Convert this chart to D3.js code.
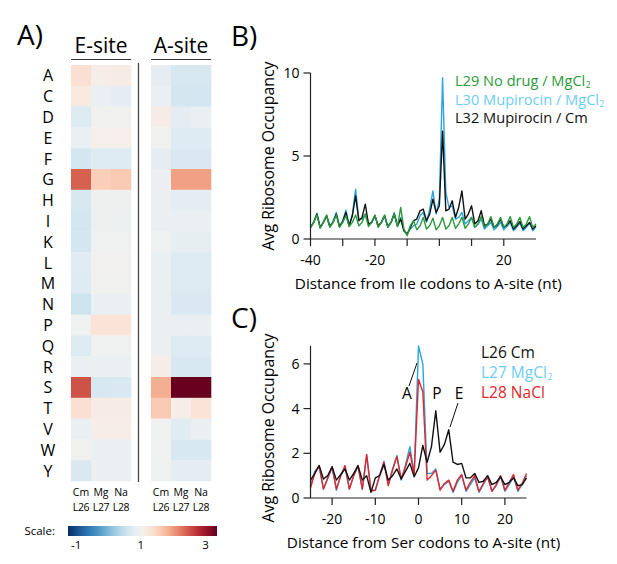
<!DOCTYPE html>
<html lang="en">
<head>
    <meta charset="UTF-8">
    <title>Ribosome occupancy</title>
    <script src="https://d3js.org/d3.v7.min.js"></script>
    <style>
        body {
            margin: 0;
            padding: 0;
            background-color: #fff;
        }
        svg text {
            font-family: "Open Sans", "Noto Sans", sans-serif;
        }
    </style>
</head>
<body>
    <svg id="chart" width="617" height="564"></svg>

    <script>
        // ---- heatmap data (A) ----
        const aminoAcids = ['A','C','D','E','F','G','H','I','K','L','M','N','P','Q','R','S','T','V','W','Y'];
        const heatCols = ['Cm', 'Mg', 'Na'];
        const heatLibs = ['L26', 'L27', 'L28'];
        const eSiteCm = [1.35, 1.2, 0.7, 0.85, 0.62, 2.4, 0.65, 0.62, 0.62, 0.75, 0.72, 0.55, 0.95, 0.7, 0.85, 2.5, 1.35, 0.85, 0.97, 0.68];
        const eSiteMg = [1.1, 0.85, 0.97, 1.05, 0.72, 1.55, 0.93, 0.93, 0.95, 0.98, 0.96, 0.85, 1.3, 0.95, 0.87, 0.65, 1.15, 1.1, 0.87, 0.88];
        const eSiteNa = [1.15, 0.8, 0.97, 1.08, 0.72, 1.6, 0.93, 0.92, 0.95, 0.98, 0.96, 0.85, 1.3, 0.95, 0.87, 0.68, 1.15, 1.1, 0.87, 0.88];
        const aSiteCm = [0.8, 0.85, 1.15, 0.97, 0.8, 0.88, 0.9, 0.88, 0.95, 0.85, 0.87, 0.87, 0.9, 0.9, 1.1, 1.85, 1.6, 0.95, 0.95, 0.95];
        const aSiteMg = [0.65, 0.62, 0.8, 0.72, 0.68, 1.95, 0.78, 0.85, 0.83, 0.7, 0.7, 0.68, 0.85, 0.7, 0.65, 3.35, 1.1, 0.75, 0.65, 0.8];
        const aSiteNa = [0.65, 0.62, 0.85, 0.72, 0.68, 1.95, 0.78, 0.88, 0.83, 0.7, 0.7, 0.68, 0.87, 0.7, 0.65, 3.35, 1.3, 0.88, 0.65, 0.8];
        const scaleTicks = [-1, 1, 3];

        // ---- Ile codons (B), positions -40..30 ----
        const ileX = d3.range(-40, 31);
        const ileL29 = [0.7,1.0,1.45,0.65,1.0,1.45,0.7,1.0,1.45,0.7,1.0,1.4,0.75,1.0,1.45,0.8,1.0,1.5,0.75,1.0,1.45,0.7,1.0,1.45,0.7,1.0,1.5,0.75,1.9,0.6,0.2,0.8,1.1,0.55,0.8,1.3,0.6,0.8,1.25,0.55,0.8,1.3,0.6,0.8,1.3,0.65,0.9,1.3,0.65,0.9,1.3,0.7,0.9,1.35,0.7,0.9,1.35,0.7,0.9,1.3,0.7,0.9,1.35,0.7,0.9,1.3,0.7,0.9,1.35,0.7,0.9];
        const ileL30 = [0.7,1.0,1.55,0.7,1.0,1.4,0.75,1.05,1.6,0.75,1.1,1.75,0.8,1.5,3.0,1.2,1.2,1.5,0.85,1.0,1.4,0.75,1.0,1.4,0.7,1.0,1.6,0.75,1.3,0.5,0.3,0.6,0.8,0.9,1.4,1.6,1.0,1.8,2.9,1.5,2.4,9.7,2.8,1.9,2.0,1.2,1.3,1.6,0.9,1.1,1.3,0.7,0.9,1.2,0.6,0.8,1.0,0.55,0.75,1.0,0.55,0.75,1.0,0.5,0.7,0.95,0.5,0.7,0.95,0.5,0.75];
        const ileL32 = [0.7,1.0,1.5,0.7,1.0,1.4,0.75,1.0,1.5,0.75,1.05,1.6,0.8,1.4,2.6,1.1,1.3,2.1,0.9,1.0,1.4,0.8,1.0,1.4,0.75,1.0,1.5,0.8,1.2,0.5,0.3,0.7,1.1,1.2,1.7,1.8,1.1,1.5,2.4,1.6,2.0,6.5,1.7,1.8,2.3,1.3,1.9,2.9,1.2,1.5,2.0,0.9,1.1,1.7,0.8,0.9,1.2,0.7,0.85,1.2,0.7,0.85,1.1,0.6,0.8,1.05,0.6,0.8,1.0,0.6,0.8];
        const ileXTicks = [-40, -30, -20, -10, 0, 10, 20];
        const ileXLabels = [-40, -20, 20];
        const ileYTicks = [0, 5, 10];

        // ---- Ser codons (C), positions -25..25 ----
        const serX = d3.range(-25, 26);
        const serL26 = [0.8,1.1,1.45,0.85,1.0,1.4,0.8,1.05,1.3,0.8,1.1,1.45,0.8,1.0,0.25,0.9,1.0,1.5,0.8,1.0,1.3,0.85,1.2,1.55,0.95,1.35,2.35,1.6,2.3,3.9,2.05,2.4,3.05,1.6,1.5,1.55,0.9,0.9,1.1,0.7,0.75,1.0,0.6,0.7,0.95,0.6,0.7,0.9,0.55,0.6,0.9];
        const serL27 = [0.55,1.2,1.4,0.4,0.9,1.35,0.35,1.0,1.35,0.4,1.0,1.4,0.4,1.9,0.35,0.35,1.0,1.65,0.6,1.3,1.9,0.8,1.5,2.3,1.1,6.8,6.0,1.1,1.1,1.3,0.4,0.6,0.75,0.25,0.7,1.0,0.3,0.6,0.9,0.25,0.6,0.95,0.3,0.55,0.95,0.3,0.6,0.95,0.3,0.6,1.0];
        const serL28 = [0.45,1.1,1.45,0.4,0.9,1.4,0.4,1.0,1.45,0.4,1.0,1.45,0.4,1.95,0.3,0.35,1.0,1.6,0.55,1.25,1.85,0.85,1.4,2.05,1.05,5.3,4.75,0.8,1.0,1.25,0.35,0.65,0.8,0.3,0.8,1.05,0.35,0.7,1.0,0.3,0.65,0.95,0.3,0.6,1.0,0.35,0.7,1.05,0.35,0.65,1.1];
        const serXTicks = [-20, -10, 0, 10, 20];
        const serYTicks = [0, 2, 4, 6];

        const green = '#2b9a3a';
        const blueLine = '#2ba5e2';
        const blueText = '#6ccdf4';
        const red = '#e3262b';

        const svg = d3.select('#chart');

        // ================= A) heatmap =================
        svg.append('text').attr('x', 17).attr('y', 45)
            .attr('font-size', 28).text('A)');

        const color = d3.scaleDiverging()
            .domain([-1.25, 1, 3.35])
            .interpolator(t => d3.interpolateRdBu(1 - t))
            .clamp(true);

        const yRow = d3.scaleBand().domain(aminoAcids).range([65, 481]);

        const blocks = [
            { title: 'E-site', x0: 71, cols: [eSiteCm, eSiteMg, eSiteNa] },
            { title: 'A-site', x0: 151, cols: [aSiteCm, aSiteMg, aSiteNa] }
        ];

        blocks.forEach(b => {
            const xCol = d3.scaleBand().domain(heatCols).range([b.x0, b.x0 + 60]);
            const g = svg.append('g');
            heatCols.forEach((c, ci) => {
                g.selectAll(null)
                    .data(b.cols[ci])
                    .enter()
                    .append('rect')
                    .attr('x', xCol(c))
                    .attr('y', (d, i) => yRow(aminoAcids[i]))
                    .attr('width', xCol.bandwidth() + 0.3)
                    .attr('height', yRow.bandwidth() + 0.3)
                    .attr('fill', d => color(d));
                g.append('text')
                    .attr('x', xCol(c) + xCol.bandwidth() / 2)
                    .attr('y', 496)
                    .attr('text-anchor', 'middle')
                    .attr('font-size', 10.5)
                    .text(c);
                g.append('text')
                    .attr('x', xCol(c) + xCol.bandwidth() / 2)
                    .attr('y', 511)
                    .attr('text-anchor', 'middle')
                    .attr('font-size', 10.5)
                    .attr('letter-spacing', -0.3)
                    .text(heatLibs[ci]);
            });
            g.append('text')
                .attr('x', b.x0 + 30).attr('y', 53)
                .attr('text-anchor', 'middle')
                .attr('font-size', 21)
                .text(b.title);
            g.append('line')
                .attr('x1', b.x0).attr('x2', b.x0 + 60)
                .attr('y1', 59.5).attr('y2', 59.5)
                .attr('stroke', '#333').attr('stroke-width', 1.2);
        });

        // divider between E-site and A-site
        svg.append('line')
            .attr('x1', 138.5).attr('x2', 138.5)
            .attr('y1', 63).attr('y2', 482)
            .attr('stroke', '#444').attr('stroke-width', 1.3);

        // row labels
        svg.selectAll('.aa')
            .data(aminoAcids)
            .enter()
            .append('text')
            .attr('class', 'aa')
            .attr('x', 48)
            .attr('y', d => yRow(d) + yRow.bandwidth() / 2 + 6)
            .attr('text-anchor', 'middle')
            .attr('font-size', 16)
            .text(d => d);

        // colour scale bar
        const xScale = d3.scaleLinear().domain([-1.25, 3.35]).range([68, 217]);
        const grad = svg.append('defs').append('linearGradient')
            .attr('id', 'scaleGrad');
        d3.range(0, 1.0001, 0.05).forEach(t => {
            grad.append('stop')
                .attr('offset', t)
                .attr('stop-color', color(xScale.invert(68 + t * 149)));
        });
        svg.append('rect')
            .attr('x', xScale.range()[0]).attr('y', 526)
            .attr('width', xScale.range()[1] - xScale.range()[0]).attr('height', 10)
            .attr('fill', 'url(#scaleGrad)');
        svg.append('text')
            .attr('x', 55).attr('y', 535)
            .attr('text-anchor', 'end')
            .attr('font-size', 11.5)
            .text('Scale:');
        svg.selectAll('.scaleTick')
            .data(scaleTicks)
            .enter()
            .append('text')
            .attr('class', 'scaleTick')
            .attr('x', d => xScale(d))
            .attr('y', 549)
            .attr('text-anchor', 'middle')
            .attr('font-size', 11.5)
            .text(d => d);

        // ================= line chart helper =================
        const drawAxes = (g, x, y, xTicks, xLabels, yTicks, xTitle, yTitleY) => {
            const [x0, x1] = x.range();
            const [y0, y1] = y.range();
            g.append('line').attr('x1', x0).attr('x2', x1).attr('y1', y0).attr('y2', y0)
                .attr('stroke', '#222').attr('stroke-width', 1.2);
            g.append('line').attr('x1', x0).attr('x2', x0).attr('y1', y0).attr('y2', y1)
                .attr('stroke', '#222').attr('stroke-width', 1.2);
            xTicks.forEach(t => {
                g.append('line').attr('x1', x(t)).attr('x2', x(t))
                    .attr('y1', y0).attr('y2', y0 + 7)
                    .attr('stroke', '#222').attr('stroke-width', 1.2);
            });
            xLabels.forEach(t => {
                g.append('text').attr('x', x(t)).attr('y', y0 + 26)
                    .attr('text-anchor', 'middle').attr('font-size', 14)
                    .text(t);
            });
            yTicks.forEach(t => {
                g.append('line').attr('x1', x0 - 7).attr('x2', x0)
                    .attr('y1', y(t)).attr('y2', y(t))
                    .attr('stroke', '#222').attr('stroke-width', 1.2);
                g.append('text').attr('x', x0 - 11).attr('y', y(t) + 5)
                    .attr('text-anchor', 'end').attr('font-size', 14)
                    .text(t);
            });
            g.append('text')
                .attr('x', (x0 + x1) / 2 + 5).attr('y', y0 + 50)
                .attr('text-anchor', 'middle').attr('font-size', 15.3)
                .text(xTitle);
            g.append('text')
                .attr('transform', `translate(274, ${yTitleY}) rotate(-90)`)
                .attr('text-anchor', 'middle').attr('font-size', 15.8)
                .text('Avg Ribosome Occupancy');
        };

        const drawLine = (g, x, y, xs, vals, stroke) => {
            const line = d3.line()
                .x((d, i) => x(xs[i]))
                .y(d => y(d));
            g.append('path')
                .datum(vals)
                .attr('d', line)
                .attr('fill', 'none')
                .attr('stroke', stroke)
                .attr('stroke-width', 1.4)
                .attr('stroke-linejoin', 'round');
        };

        // legend rows with a subscript as its own text, placed after the main text
        const drawLegend = (g, items, x, y0, step, size) => {
            items.forEach((d, i) => {
                const y = y0 + i * step;
                const t = g.append('text')
                    .attr('x', x).attr('y', y)
                    .attr('font-size', size)
                    .attr('fill', d.fill)
                    .text(d.main);
                if (d.sub) {
                    const w = t.node().getComputedTextLength();
                    g.append('text')
                        .attr('x', x + w + 0.5).attr('y', y + 2)
                        .attr('font-size', 8.5)
                        .attr('fill', d.fill)
                        .text(d.sub);
                }
            });
        };

        // ================= B) Ile codons =================
        svg.append('text').attr('x', 231).attr('y', 46)
            .attr('font-size', 28).text('B)');
        const xB = d3.scaleLinear().domain([-40, 30]).range([310.5, 536]);
        const yB = d3.scaleLinear().domain([0, 10]).range([239, 73]);
        const gB = svg.append('g');
        drawLine(gB, xB, yB, ileX, ileL30, blueLine);
        drawLine(gB, xB, yB, ileX, ileL32, '#111');
        drawLine(gB, xB, yB, ileX, ileL29, green);
        drawAxes(gB, xB, yB, ileXTicks, ileXLabels, ileYTicks,
            'Distance from Ile codons to A-site (nt)', 156);

        const legendB = [
            { main: 'L29 No drug / MgCl', sub: '2', fill: green },
            { main: 'L30 Mupirocin / MgCl', sub: '2', fill: blueText },
            { main: 'L32 Mupirocin / Cm', sub: '', fill: '#111' }
        ];
        drawLegend(gB, legendB, 455, 86, 18.5, 14.6);

        // ================= C) Ser codons =================
        svg.append('text').attr('x', 231).attr('y', 328)
            .attr('font-size', 28).text('C)');
        const xC = d3.scaleLinear().domain([-25, 25]).range([310.5, 526.5]);
        const yC = d3.scaleLinear().domain([0, 6.8]).range([498, 346]);
        const gC = svg.append('g');
        drawLine(gC, xC, yC, serX, serL27, blueLine);
        drawLine(gC, xC, yC, serX, serL28, red);
        drawLine(gC, xC, yC, serX, serL26, '#111');
        drawAxes(gC, xC, yC, serXTicks, serXTicks, serYTicks,
            'Distance from Ser codons to A-site (nt)', 428);

        const legendC = [
            { main: 'L26 Cm', sub: '', fill: '#111' },
            { main: 'L27 MgCl', sub: '2', fill: blueText },
            { main: 'L28 NaCl', sub: '', fill: red }
        ];
        drawLegend(gC, legendC, 481, 358, 20, 15.5);

        // site annotations
        const sites = [
            { label: 'A', x: 407, from: [409, 386], to: [417, 363] },
            { label: 'P', x: 437 },
            { label: 'E', x: 459, from: [450, 427], to: [458, 403] }
        ];
        sites.forEach(s => {
            gC.append('text').attr('x', s.x).attr('y', 399)
                .attr('text-anchor', 'middle').attr('font-size', 15.5)
                .text(s.label);
            if (s.from) {
                gC.append('line')
                    .attr('x1', s.from[0]).attr('y1', s.from[1])
                    .attr('x2', s.to[0]).attr('y2', s.to[1])
                    .attr('stroke', '#111').attr('stroke-width', 1);
            }
        });
    </script>
</body>
</html>
